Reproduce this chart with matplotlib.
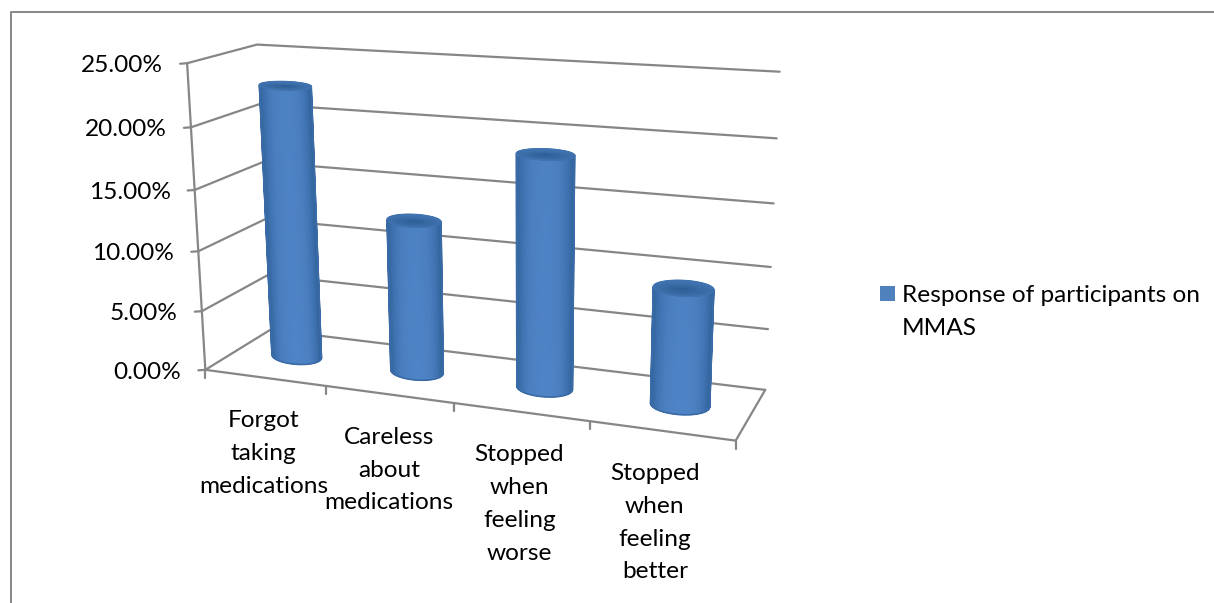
import numpy as np
import matplotlib
matplotlib.use('Agg')
import matplotlib.pyplot as plt
from matplotlib.colors import LinearSegmentedColormap
from matplotlib.patches import Rectangle

categories = [
    ['Forgot', 'taking', 'medications'],
    ['Careless', 'about', 'medications'],
    ['Stopped', 'when', 'feeling', 'worse'],
    ['Stopped', 'when', 'feeling', 'better'],
]
responses = [22.7, 12.6, 18.7, 9.3]
y_ticks = [0, 5, 10, 15, 20, 25]
series_name = ['Response of participants on', 'MMAS']

GREY = '#868686'
BLUE = '#4f81bd'
RADIUS_U = 0.21
RADIUS_V = 0.19
LINE_GAP = 32.7
LABEL_NUDGE = [0, 1, -1, -6]

# (category pos, depth, percent) -> pixel pairs used to fit the 3D camera
camera_world = [(0, 0, 25), (0, 0, 0), (0, 1, 25), (0, 1, 0), (4, 1, 25), (4, 1, 0), (4, 0, 0),
                (1, 0, 0), (2, 0, 0), (3, 0, 0), (0, 0, 10), (4, 1, 10)]
camera_pixel = [(189, 63), (205, 369), (255, 45), (272, 329), (780, 72), (765, 390), (736, 438),
                (325, 388), (454, 405), (590, 422), (198, 250), (771, 267)]

plt.rcParams['font.family'] = ['Lato', 'DejaVu Sans']
plt.rcParams['font.size'] = 17.6


def fit_camera(world, pixel):
    rows = []
    for (x, y, z), (px, py) in zip(world, pixel):
        rows.append([x, y, z, 1, 0, 0, 0, 0, -px * x, -px * y, -px * z, -px])
        rows.append([0, 0, 0, 0, x, y, z, 1, -py * x, -py * y, -py * z, -py])
    return np.linalg.svd(np.array(rows, dtype=float))[2][-1].reshape(3, 4)


camera = fit_camera(camera_world, camera_pixel)


def proj(u, v, w):
    p = camera @ np.array([u, v, w, 1.0])
    return np.array([p[0] / p[2], p[1] / p[2]])


def draw_line(ax, points, zorder=1, lw=1.6):
    pts = np.array(points)
    ax.plot(pts[:, 0], pts[:, 1], color=GREY, lw=lw, zorder=zorder, solid_capstyle='round')


def ellipse_frame(u, w):
    centre = proj(u, 0.5, w)
    across = proj(u + RADIUS_U, 0.5, w) - centre
    across[1] *= 0.5
    depth = proj(u, 0.5 - RADIUS_V, w)[1] - centre[1]
    return centre, across, np.array([0.0, depth])


def draw_cylinder(ax, u, value, body_map, cap_map):
    theta = np.linspace(np.pi, 2 * np.pi, 61)
    heights = np.linspace(0, value, 24)
    xs, ys, shade = [], [], []
    for w in heights:
        c, a, d = ellipse_frame(u, w)
        pts = c + np.outer(np.cos(theta), a) - np.outer(np.sin(theta), d)
        xs.append(pts[:, 0])
        ys.append(pts[:, 1])
        glow = 1 - np.abs(np.cos(theta)) ** 2.0
        shade.append(glow * (0.85 + 0.15 * (1 - w / value)))
    xs, ys = np.array(xs), np.array(ys)
    ax.pcolormesh(xs, ys, np.array(shade), cmap=body_map, vmin=0, vmax=1,
                  shading='gouraud', zorder=3)

    # top cap, darker towards the front of the rim
    c, a, d = ellipse_frame(u, value)
    theta = np.linspace(0, 2 * np.pi, 73)
    radii = np.linspace(0, 1, 8)
    cx = np.array([c[0] + r * (np.cos(theta) * a[0]) for r in radii])
    cy = np.array([c[1] + r * (np.cos(theta) * a[1] - np.sin(theta) * d[1]) for r in radii])
    tone = np.array([r + (1 - r) * 0.1 + 0.3 * r * np.sin(theta) for r in radii])
    ax.pcolormesh(cx, cy, tone, cmap=cap_map, vmin=0, vmax=1.3, shading='gouraud', zorder=4)

    # outline smooths the raster edges of the shaded meshes
    sil_x = np.r_[xs[:, 0], xs[0, 1:], xs[::-1, -1]]
    sil_y = np.r_[ys[:, 0], ys[0, 1:], ys[::-1, -1]]
    ax.plot(sil_x, sil_y, color='#3a6ba6', lw=1.2, zorder=5)
    ax.plot(cx[-1], cy[-1], color='#3f72ae', lw=1.2, zorder=5)


body_map = LinearSegmentedColormap.from_list('body', ['#32639c', '#3f72b0', '#4a7ebf', '#4e84c6'])
cap_map = LinearSegmentedColormap.from_list('cap', ['#2c5b92', '#3a6ca6', '#4377b4'])

fig = plt.figure(figsize=(12.14, 6.03), dpi=100)
ax = fig.add_axes([0, 0, 1, 1])
ax.set_xlim(0, 1214)
ax.set_ylim(603, 0)
ax.axis('off')

# chart frame
ax.plot([10.5, 10.5, 1214], [603, 11.5, 11.5], color=GREY, lw=1.4, zorder=1)

# walls and their gridlines
for tick in y_ticks:
    draw_line(ax, [proj(0, 0, tick), proj(0, 1, tick), proj(4, 1, tick)])
    front = proj(0, 0, tick)
    draw_line(ax, [front, front + np.array([-7, 0.5])])
    ax.text(front[0] - 24, front[1] + 2.5, '%.2f%%' % tick, ha='right', va='center', color='black')

# front axis and floor edges
draw_line(ax, [proj(0, 0, 0), proj(0, 0, 25)])
draw_line(ax, [proj(0, 0, 0), proj(4, 0, 0), proj(4, 1, 0)])
for i in range(len(categories) + 1):
    base = proj(i, 0, 0)
    draw_line(ax, [base, base + np.array([0, 8])])

for i, value in enumerate(responses):
    draw_cylinder(ax, i + 0.5, value, body_map, cap_map)

# category labels, one text per wrapped line
for i, lines in enumerate(categories):
    anchor = proj(i + 0.5, 0, 0)
    for j, line in enumerate(lines):
        ax.text(anchor[0] - 1 + LABEL_NUDGE[i], anchor[1] + 43 + j * LINE_GAP, line, ha='center',
                va='center', color='black')

ax.add_patch(Rectangle((880, 286), 15, 15, facecolor=BLUE, edgecolor='none'))
for j, line in enumerate(series_name):
    ax.text(902, 296 + j * LINE_GAP, line, ha='left', va='center', color='black')

fig.savefig('out.png', dpi=100)
